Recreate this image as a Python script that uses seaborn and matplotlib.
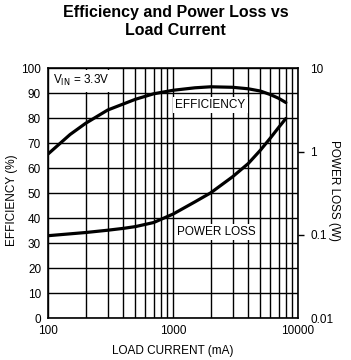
import numpy as np
import pandas as pd
import matplotlib
matplotlib.use("Agg")
import matplotlib.pyplot as plt
import seaborn as sns

# efficiency curve (load current mA -> %)
eff_current = [100, 150, 200, 300, 500, 700, 1000, 1500, 2000, 3000, 4000, 5000, 6000, 7000, 8000]
eff_percent = [65.7, 73.5, 78.0, 83.3, 87.6, 89.8, 91.2, 92.2, 92.6, 92.4, 91.8, 90.9, 89.5, 88.0, 86.3]

# power loss curve (load current mA -> W)
loss_current = [100, 200, 300, 400, 500, 700, 1000, 1500, 2000, 3000, 4000, 5000, 6000, 7000, 8000]
loss_watts = [0.098, 0.107, 0.114, 0.12, 0.126, 0.141, 0.178, 0.25, 0.32, 0.50, 0.72, 1.04, 1.45, 1.95, 2.5]

left_ticks = [0, 10, 20, 30, 40, 50, 60, 70, 80, 90, 100]
right_ticks = [0.01, 0.1, 1, 10]
right_labels = ["0.01", "0.1", "1", "10"]
x_ticks = [100, 1000, 10000]
x_labels = ["100", "1000", "10000"]

sns.set_style("white")
fam = ["Liberation Sans Narrow", "Liberation Sans", "DejaVu Sans"]
plt.rcParams["font.family"] = fam
plt.rcParams["font.size"] = 8.5
plt.rcParams["text.color"] = "black"
plt.rcParams["axes.labelcolor"] = "black"

eff = pd.DataFrame({"current": eff_current, "eff": eff_percent})
loss = pd.DataFrame({"current": loss_current, "loss": loss_watts})

fig = plt.figure(figsize=(3.51, 3.60), dpi=100)
ax = fig.add_axes([0.1368, 0.1158, 0.7122, 0.6945])

ax.set_xscale("log")
ax.set_xlim(100, 10000)
ax.set_ylim(0, 100)
ax.set_yticks(left_ticks)
ax.set_xticks(x_ticks)
ax.set_xticklabels(x_labels)
ax.xaxis.set_minor_locator(matplotlib.ticker.LogLocator(base=10, subs=range(2, 10)))
ax.xaxis.set_minor_formatter(matplotlib.ticker.NullFormatter())
ax.grid(True, which="both", axis="x", color="black", linewidth=1.0)
ax.grid(True, which="major", axis="y", color="black", linewidth=1.0)
ax.tick_params(axis="both", which="both", length=0, pad=5, colors="black")
for s in ax.spines.values():
    s.set_color("black")
    s.set_linewidth(1.2)

sns.lineplot(data=eff, x="current", y="eff", ax=ax, color="black", linewidth=2.3)
ax.set_xlabel("LOAD CURRENT (mA)")
ax.set_ylabel("EFFICIENCY (%)")
ax.xaxis.set_label_coords(0.5, -0.105)
ax.yaxis.set_label_coords(-0.12, 0.472)

ax2 = ax.twinx()
ax2.set_yscale("log")
ax2.set_ylim(0.01, 10)
sns.lineplot(data=loss, x="current", y="loss", ax=ax2, color="black", linewidth=2.3)
ax2.set_yticks(right_ticks)
ax2.set_yticklabels(right_labels)
ax2.yaxis.set_minor_locator(matplotlib.ticker.NullLocator())
ax2.tick_params(axis="y", length=4, width=1, pad=5, colors="black")
ticks = ax2.yaxis.get_major_ticks()
ticks[0].tick2line.set_visible(False)
ticks[-1].tick2line.set_visible(False)
ax2.set_ylabel("POWER LOSS (W)", rotation=-90, va="center")
ax2.yaxis.set_label_coords(1.144, 0.512)
ax2.set_xlim(100, 10000)
for s in ax2.spines.values():
    s.set_visible(False)

box = dict(facecolor="white", edgecolor="none", pad=1.5)
ax.text(0.02, 0.98, "V$_{\\mathrm{IN}}$ = 3.3V", transform=ax.transAxes, ha="left", va="top",
        bbox=dict(facecolor="white", edgecolor="none", pad=2.5))
ax.text(0.65, 0.852, "EFFICIENCY", transform=ax.transAxes, ha="center", va="center", bbox=box)
ax.text(0.672, 0.344, "POWER LOSS", transform=ax.transAxes, ha="center", va="center", bbox=box)

fig.suptitle("Efficiency and Power Loss vs\nLoad Current", x=0.5, y=0.985, fontsize=11.5,
             fontweight="bold", linespacing=1.2)

fig.savefig("out.png", dpi=100, facecolor="white")
